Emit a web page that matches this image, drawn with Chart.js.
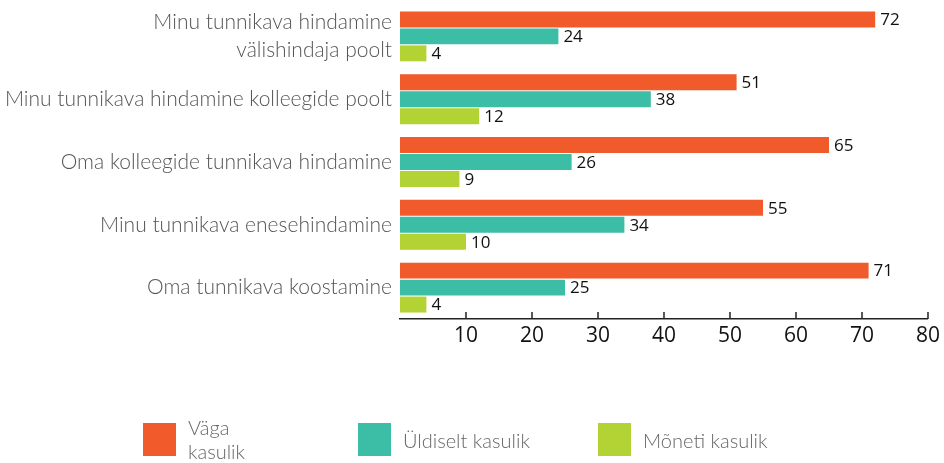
<!DOCTYPE html>
<html>
<head>
<meta charset="utf-8">
<script src="https://cdn.jsdelivr.net/npm/chart.js@4"></script>
<style>
  body { margin: 0; background: #fff; }
  #wrap { position: relative; width: 944px; height: 463px; }
  .leg { position: absolute; font-family: Lato, "Open Sans", sans-serif; font-weight: 300; font-size: 20px; color: #666; line-height: 24px; }
  .sq { position: absolute; width: 33px; height: 33px; }
</style>
</head>
<body>
<div id="wrap">
  <canvas id="chart" width="944" height="463"></canvas>
</div>
<script>
var kategooriad = [
  ["Minu tunnikava hindamine", "välishindaja poolt"],
  "Minu tunnikava hindamine kolleegide poolt",
  "Oma kolleegide tunnikava hindamine",
  "Minu tunnikava enesehindamine",
  "Oma tunnikava koostamine"
];
var seeriad = ["Väga kasulik", "Üldiselt kasulik", "Mõneti kasulik"];
var vagaKasulik = [72, 51, 65, 55, 71];
var uldiseltKasulik = [24, 38, 26, 34, 25];
var monetiKasulik = [4, 12, 9, 10, 4];
var varvid = ['#f15a2b', '#3cbda5', '#b3d335'];

// numbrid tulpade otsas
var vaartused = {
  id: 'vaartused',
  afterDatasetsDraw: function (chart) {
    var ctx = chart.ctx;
    ctx.save();
    ctx.font = '17px "Open Sans", sans-serif';
    ctx.fillStyle = '#111';
    ctx.textBaseline = 'middle';
    ctx.textAlign = 'left';
    chart.data.datasets.forEach(function (ds, i) {
      chart.getDatasetMeta(i).data.forEach(function (el, j) {
        ctx.fillText(ds.data[j], el.x + 5, el.y + 1);
      });
    });
    ctx.restore();
  }
};

// lühikesed jaotised telje kohal
var jaotised = {
  id: 'jaotised',
  afterDraw: function (chart) {
    var x = chart.scales.x, ctx = chart.ctx;
    ctx.save();
    ctx.strokeStyle = '#222';
    ctx.lineWidth = 1.5;
    x.ticks.forEach(function (t) {
      if (t.value === 0) return;
      var px = x.getPixelForValue(t.value);
      ctx.beginPath();
      ctx.moveTo(px, x.top);
      ctx.lineTo(px, x.top - 7);
      ctx.stroke();
    });
    ctx.restore();
  }
};

var datasets = [vagaKasulik, uldiseltKasulik, monetiKasulik].map(function (d, i) {
  return {
    label: seeriad[i],
    data: d,
    backgroundColor: varvid[i],
    categoryPercentage: 0.81,
    barPercentage: 0.94
  };
});

var chart = new Chart('chart', {
  type: 'bar',
  data: { labels: kategooriad, datasets: datasets },
  plugins: [vaartused, jaotised],
  options: {
    indexAxis: 'y',
    responsive: false,
    animation: false,
    layout: { padding: { top: 5, right: 14, left: 0, bottom: 0 } },
    plugins: { legend: { display: false }, tooltip: { enabled: false } },
    scales: {
      y: {
        grid: { display: false, drawTicks: false, tickLength: 0 },
        border: { display: false },
        ticks: {
          font: { family: 'Lato', size: 21, weight: 300, lineHeight: 1.35 },
          color: '#555',
          padding: 8
        },
        afterFit: function (s) {
          s.width = 400;
          s.paddingTop = 0;
          s.paddingBottom = 0;
        }
      },
      x: {
        min: 0,
        max: 80,
        grid: { display: false, drawTicks: false, tickLength: 0 },
        border: { display: true, color: '#222', width: 1.5 },
        ticks: {
          stepSize: 10,
          font: { family: '"Open Sans"', size: 21 },
          color: '#111',
          padding: 4,
          callback: function (v) { return v === 0 ? '' : v; }
        },
        afterFit: function (s) { s.height = 144; }
      }
    }
  }
});

// legend
var legX = [143, 358, 598];
var legTekst = ["Väga<br>kasulik", seeriad[1], seeriad[2]];
var wrap = document.getElementById('wrap');
legX.forEach(function (x, i) {
  var sq = document.createElement('div');
  sq.className = 'sq';
  sq.style.left = x + 'px';
  sq.style.top = '423px';
  sq.style.background = varvid[i];
  wrap.appendChild(sq);
  var t = document.createElement('div');
  t.className = 'leg';
  t.style.left = (x + 45) + 'px';
  t.style.top = i === 0 ? '415px' : '428px';
  t.innerHTML = legTekst[i];
  wrap.appendChild(t);
});
</script>
</body>
</html>
